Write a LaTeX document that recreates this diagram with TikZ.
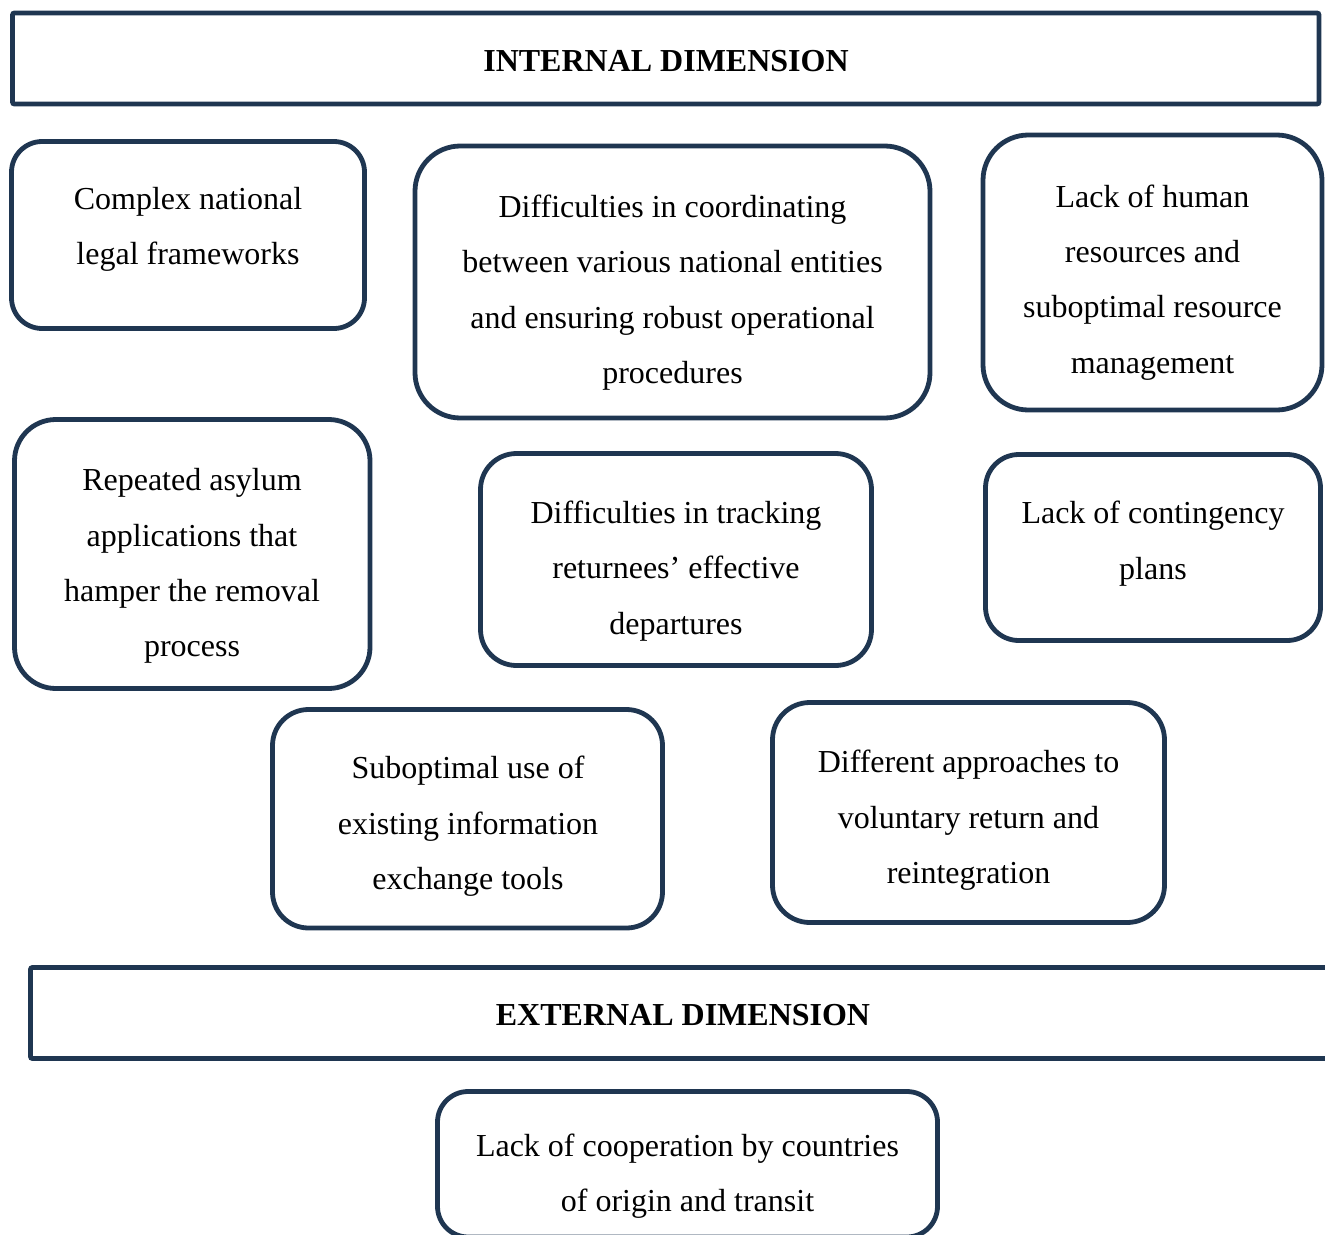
\documentclass[tikz,border=0pt]{standalone}
\usepackage{fontspec}
\setmainfont{Liberation Serif}
\definecolor{framenavy}{HTML}{1F3651}

\begin{document}
\begin{tikzpicture}[x=0.75pt,y=-0.75pt,
    issueframe/.style={draw=framenavy,line width=3.6pt,rounded corners=#1},
    issueframe/.default=1.5pt,
    issue/.style={align=center,inner sep=0pt,font=\fontsize{24}{41.5}\selectfont},
    heading/.style={inner sep=0pt,font=\fontsize{24}{41.5}\selectfont\bfseries}]
    \clip (0,0) rectangle (1325,1235);

    % dimension banners
    \draw[issueframe] (12.5,13) rectangle (1319,104);
    \node[heading] (internal) at (666,61) {INTERNAL DIMENSION};
    \draw[issueframe] (30.5,967.5) rectangle (1338,1058.5);
    \node[heading] (external) at (683,1015.5) {EXTERNAL DIMENSION};

    % internal issues
    \draw[issueframe=23pt] (11.5,141.5) rectangle (364.5,328.5);
    \node[issue] (legal) at (188,229.5) {Complex national\\legal frameworks};
    \draw[issueframe=34pt] (415,146) rectangle (930,418);
    \node[issue] (coord) at (672.5,292.5) {Difficulties in coordinating\\between various national entities\\and ensuring robust operational\\procedures};
    \draw[issueframe=34pt] (983,135) rectangle (1322,410);
    \node[issue] (staff) at (1152.5,282.5) {Lack of human\\resources and\\suboptimal resource\\management};

    \draw[issueframe=31pt] (14.5,419.5) rectangle (370,688.5);
    \node[issue] (asylum) at (192,566) {Repeated asylum\\applications that\\hamper the removal\\process};
    \draw[issueframe=27pt] (480.5,453.5) rectangle (871.5,665.5);
    \node[issue] (track) at (676,571) {Difficulties in tracking\\returnees’ effective\\departures};
    \draw[issueframe=25pt] (985.5,454.5) rectangle (1320.5,640.5);
    \node[issue] (plans) at (1153,543.5) {Lack of contingency\\plans};

    \draw[issueframe=27pt] (272.5,709.5) rectangle (662.5,928);
    \node[issue] (tools) at (468,826.5) {Suboptimal use of\\existing information\\exchange tools};
    \draw[issueframe=28pt] (772.5,702.5) rectangle (1164.5,922.5);
    \node[issue] (return) at (968.5,820.5) {Different approaches to\\voluntary return and\\reintegration};

    % external issue
    \draw[issueframe=23pt] (437.5,1091.5) rectangle (937.5,1237);
    \node[issue] (coop) at (687.5,1176) {Lack of cooperation by countries\\of origin and transit};
\end{tikzpicture}
\end{document}
